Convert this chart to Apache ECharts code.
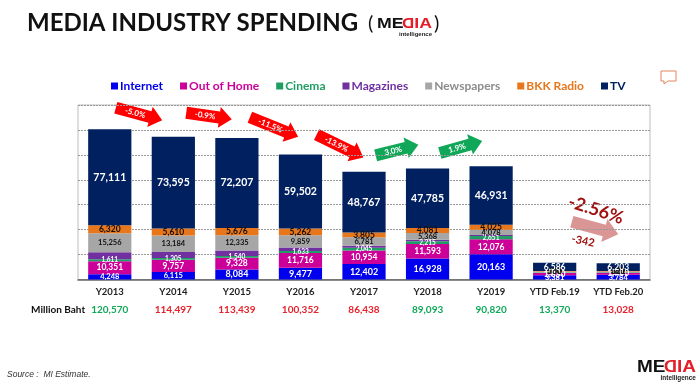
<!DOCTYPE html>
<html>
<head>
<meta charset="utf-8">
<script src="https://cdn.jsdelivr.net/npm/echarts@6/dist/echarts.min.js"></script>
<style>
html,body{margin:0;padding:0;background:#fff;}
#main{width:700px;height:383px;}
</style>
</head>
<body>
<div id="main"></div>
<script>
var categories = ['Y2013','Y2014','Y2015','Y2016','Y2017','Y2018','Y2019','YTD Feb.19','YTD Feb.20'];
var totals = [120570,114497,113439,100352,86438,89093,90820,13370,13028];

var internet   = [4248,6115,8084,9477,12402,16928,20163,3381,3784];
var outOfHome  = [10351,9757,9328,11716,10954,11593,12076,1850,1700];
var cinema     = [1611,1305,1540,1633,2045,2215,2651,290,250];
var magazines  = [5673,4931,4269,2903,1684,1123,896,153,130];
var newspapers = [15256,13184,12335,9859,6781,5368,4078,760,640];
var bkkRadio   = [6320,5610,5676,5262,3805,4081,4025,350,321];
var tv         = [77111,73595,72207,59502,48767,47785,46931,6586,6203];

var arrowLabels = ['-5.0%','-0.9%','-11.5%','-13.9%','3.0%','1.9%'];

var FONT = 'Lato';
var RED = '#ff0000', GREEN = '#10a858';

function fmt(v){ return String(v).replace(/\B(?=(\d{3})+$)/g, ','); }

// series in stacking order
function makeSeries(name, values, colour, labelColour, sizeFn){
    return {
        name: name,
        type: 'bar',
        stack: 'all',
        barCategoryGap: '32%',
        itemStyle: {color: colour},
        data: values.map(function(v){
            return {
                value: v,
                label: {
                    show: !!labelColour,
                    position: 'inside',
                    formatter: fmt(v),
                    color: labelColour,
                    fontFamily: FONT,
                    fontWeight: 'bold',
                    fontSize: sizeFn ? sizeFn(v) : 8
                }
            };
        })
    };
}

var seriesList = [
    makeSeries('Internet', internet, '#0000ee', '#fff', function(v){ return v >= 8000 ? 9 : 7.5; }),
    makeSeries('Out of Home', outOfHome, '#cc0099', '#fff', function(v){ return 8.5; }),
    makeSeries('Cinema', cinema, '#1f9e63', '#fff', function(v){ return 6.5; }),
    makeSeries('Magazines', magazines, '#7030a0', null),
    makeSeries('Newspapers', newspapers, '#a6a6a6', '#111', function(v){ return 7.5; }),
    makeSeries('BKK Radio', bkkRadio, '#e8761a', '#111', function(v){ return 8.5; }),
    makeSeries('TV', tv, '#002060', '#fff', function(v){ return v >= 10000 ? 10.5 : 8.5; })
];

var legendColours = ['#0000ee','#cc0099','#1f9e63','#7030a0','#8c8c8c','#e8761a','#002060'];

// direction arrow with text along it, deg > 0 tilts down to the right
function arrow(cx, cy, len, deg, colour, bodyH, headH, text){
    var x0 = -len/2, x1 = len/2, hx = x1 - headH*0.6;
    var kids = [{
        type: 'polygon',
        shape: {points: [[x0,-bodyH/2],[hx,-bodyH/2],[hx,-headH/2],[x1,0],[hx,headH/2],[hx,bodyH/2],[x0,bodyH/2]]},
        style: {fill: colour}
    }];
    if(text){
        kids.push({
            type: 'text', x: -4, y: 0,
            style: {text: text, fill: '#fff', font: 'bold 8px ' + FONT, align: 'center', verticalAlign: 'middle'}
        });
    }
    return {type: 'group', x: cx, y: cy, rotation: -deg*Math.PI/180, children: kids};
}

function tilted(x, y, deg, text, font, colour){
    return {type: 'text', x: x, y: y, rotation: -deg*Math.PI/180,
        style: {text: text, font: font, fill: colour, align: 'center', verticalAlign: 'middle'}};
}

// MEDIA logo, the D is mirrored
function logo(x, y, size){
    var f = 'bold ' + size + 'px "Liberation Sans"';
    var subSize = size*0.39;
    return [
        {type:'text', x:x, y:y, scaleX:1.15, style:{text:'ME', font:f, fill:'#111', align:'left', verticalAlign:'middle'}},
        {type:'text', x:x+size*2.02, y:y, scaleX:-1.1, style:{text:'D', font:f, fill:'#e3202a', align:'center', verticalAlign:'middle'}},
        {type:'text', x:x+size*2.42, y:y, scaleX:1.15, style:{text:'IA', font:f, fill:'#e3202a', align:'left', verticalAlign:'middle'}},
        {type:'text', x:x+size*3.57, y:y+size*0.7, style:{text:'intelligence', font:'bold '+subSize+'px "Liberation Sans"', fill:'#222', align:'right', verticalAlign:'middle'}}
    ];
}

var graphics = [
    {type:'text', x:27, y:23, style:{text:'MEDIA INDUSTRY SPENDING', font:'bold 24px ' + FONT, fill:'#111', align:'left', verticalAlign:'middle'}},
    {type:'text', x:368, y:24, style:{text:'(', font:'20px ' + FONT, fill:'#111', align:'left', verticalAlign:'middle'}},
    {type:'text', x:434, y:24, style:{text:')', font:'20px ' + FONT, fill:'#111', align:'left', verticalAlign:'middle'}},
    {type:'text', x:31, y:310, style:{text:'Million Baht', font:'bold 10px ' + FONT, fill:'#111', align:'left', verticalAlign:'middle'}},
    {type:'text', x:7, y:375, style:{text:'Source :  MI Estimate.', font:'italic 8.5px "Liberation Sans"', fill:'#333', align:'left', verticalAlign:'middle'}},
    {type:'polygon', shape:{points:[[661,71],[676,71],[676,81],[668,81],[664,84],[664,81],[661,81]]},
        style:{fill:'#fff', stroke:'#e2845a', lineWidth:1}},
    arrow(139,114,48,15,RED,12,21,arrowLabels[0]),
    arrow(209,116,46,8,RED,12,21,arrowLabels[1]),
    arrow(274,127,52,22,RED,12,21,arrowLabels[2]),
    arrow(340,146,52,26,RED,12,21,arrowLabels[3]),
    arrow(397,150,44,-14,GREEN,12,21,arrowLabels[4]),
    arrow(461,147,44,-16,GREEN,12,21,arrowLabels[5]),
    arrow(595,228,48,15,'#d99694',12,24),
    tilted(596,210,18,'-2.56%','bold 18px ' + FONT,'#a01010'),
    tilted(583,241,12,'-342','bold 11px ' + FONT,'#a01010')
].concat(logo(377,24,15.4), logo(637,367,16.5));

var option = {
    animation: false,
    backgroundColor: '#fff',
    legend: {
        top: 75,
        left: 106,
        itemWidth: 7,
        itemHeight: 7,
        itemGap: 17,
        icon: 'rect',
        textStyle: {fontFamily: FONT, fontWeight: 'bold', fontSize: 12, padding: [0,0,0,-3]},
        data: seriesList.map(function(s, i){
            return {name: s.name, textStyle: {color: legendColours[i]}};
        })
    },
    grid: {left: 78, right: 50, top: 105, height: 174.5, show: true, borderColor: '#bdbdbd', borderWidth: 1, backgroundColor: 'transparent'},
    xAxis: {
        type: 'category',
        data: categories,
        axisLine: {lineStyle: {color: '#666', width: 1.5}},
        axisTick: {show: false},
        axisLabel: {
            interval: 0,
            margin: 3,
            lineHeight: 18,
            formatter: function(value, idx){
                var up = idx === 0 || (idx !== 8 && totals[idx] > totals[idx-1]) || idx === 7;
                return '{c|' + value + '}\n{' + (up ? 'g' : 'r') + '|' + fmt(totals[idx]) + '}';
            },
            rich: {
                c: {fontFamily: FONT, fontWeight: 'bold', fontSize: 9.5, color: '#222', lineHeight: 18},
                g: {fontFamily: FONT, fontWeight: 'bold', fontSize: 10, color: '#0fa958', lineHeight: 18},
                r: {fontFamily: FONT, fontWeight: 'bold', fontSize: 10, color: '#e8202a', lineHeight: 18}
            }
        }
    },
    yAxis: {
        type: 'value',
        min: 0,
        max: 140000,
        interval: 20000,
        axisLine: {show: false},
        axisTick: {show: false},
        axisLabel: {show: false},
        splitLine: {lineStyle: {color: '#999', type: [2,1], width: 1}}
    },
    series: seriesList,
    graphic: graphics
};

var myChart = echarts.init(document.getElementById('main'));
myChart.setOption(option);
</script>
</body>
</html>
